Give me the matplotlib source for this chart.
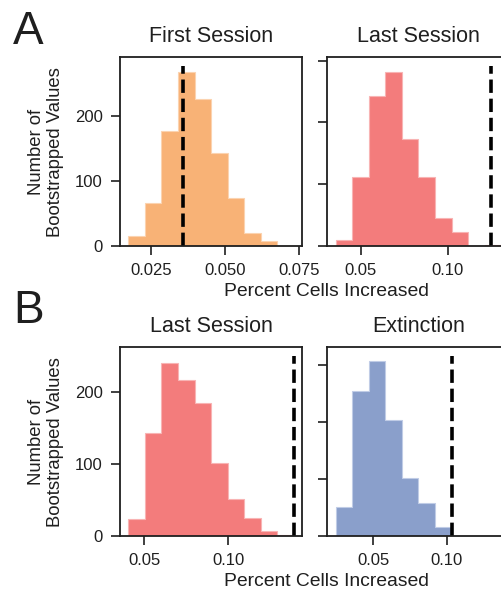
import matplotlib

matplotlib.use("Agg")
import matplotlib.pyplot as plt
import numpy as np

plt.rcParams["font.family"] = ["Liberation Sans", "DejaVu Sans"]

# ---- data ------------------------------------------------------------------
first_edges = np.linspace(0.0173, 0.0732, 11)
first_counts = [16, 67, 178, 268, 226, 144, 74, 20, 7, 0]
first_obs, first_obs_h = 0.0357, 277

lastA_edges = np.linspace(0.0356, 0.1307, 11)
lastA_counts = [10, 112, 243, 282, 173, 112, 45, 22, 0, 2]
lastA_obs, lastA_obs_h = 0.1248, 291

lastB_edges = np.linspace(0.0404, 0.1391, 11)
lastB_counts = [24, 143, 240, 217, 185, 101, 51, 25, 7, 1]
lastB_obs, lastB_obs_h = 0.1390, 250

ext_edges = np.linspace(0.0245, 0.1370, 11)
ext_counts = [51, 255, 307, 204, 101, 57, 15, 0, 0, 0]
ext_obs, ext_obs_h = 0.1035, 315

ORANGE = "#F8B276"
RED = "#F37C7C"
BLUE = "#8A9FCB"
INK = "#1f1f1f"


def _panel(ax, edges, counts, obs, obs_h, color, edge, title, xticks,
           xticklabels, show_ylabels):
    # outline only on the outer boundary, like the original
    ax.hist(edges[:-1], bins=edges, weights=counts, histtype="stepfilled",
            facecolor=color, edgecolor=edge, linewidth=0.8)
    ax.vlines(obs, 0, obs_h, colors="black", linestyles="--", linewidth=2.6)
    ax.set_title(title, fontsize=15.5, pad=11, color=INK)
    ax.set_xticks(xticks)
    ax.set_xticklabels(xticklabels)
    ax.set_yticks([0, 100, 200, 300])
    if not show_ylabels:
        ax.set_yticklabels([])
    ax.tick_params(length=6.5, width=1.2, pad=6, labelsize=12, colors=INK)
    for sp in ax.spines.values():
        sp.set_linewidth(1.3)
        sp.set_color(INK)
    ax.set_ylim(0, obs_h * 1.05)


fig = plt.figure(figsize=(5.01, 5.92), dpi=100)
W, H = 501, 592


def _rect(x0, y0, x1, y1):
    return [x0 / W, 1 - y1 / H, (x1 - x0) / W, (y1 - y0) / H]


axA1 = fig.add_axes(_rect(120, 57.3, 302.3, 246))
axA2 = fig.add_axes(_rect(327.3, 57.3, 509.6, 246))
axB1 = fig.add_axes(_rect(120, 347.3, 302.3, 536))
axB2 = fig.add_axes(_rect(327.3, 347.3, 509.6, 536))

_panel(axA1, first_edges, first_counts, first_obs, first_obs_h, ORANGE,
       "#fbd3b0", "First Session", [0.025, 0.05, 0.075],
       ["0.025", "0.050", "0.075"], True)
_panel(axA2, lastA_edges, lastA_counts, lastA_obs, lastA_obs_h, RED,
       "#f8b4b4", "Last Session", [0.05, 0.10], ["0.05", "0.10"], False)
_panel(axB1, lastB_edges, lastB_counts, lastB_obs, lastB_obs_h, RED,
       "#f8b4b4", "Last Session", [0.05, 0.10], ["0.05", "0.10"], True)
_panel(axB2, ext_edges, ext_counts, ext_obs, ext_obs_h, BLUE,
       "#c0cce6", "Extinction", [0.05, 0.10], ["0.05", "0.10"], False)

for ax in (axA1, axB1):
    ax.set_ylabel("Number of\nBootstrapped Values", fontsize=13.3, color=INK,
                  labelpad=8, linespacing=1.12)

fig.text(326.7 / W, 1 - 296 / H, "Percent Cells Increased", fontsize=13.9,
         ha="center", va="baseline", color=INK)
fig.text(326.7 / W, 1 - 586 / H, "Percent Cells Increased", fontsize=13.9,
         ha="center", va="baseline", color=INK)

fig.text(13 / W, 1 - 44 / H, "A", fontsize=33, ha="left", va="baseline",
         color=INK)
fig.text(13 / W, 1 - 323 / H, "B", fontsize=33, ha="left", va="baseline",
         color=INK)

fig.savefig("out.png", dpi=100)
plt.close(fig)
